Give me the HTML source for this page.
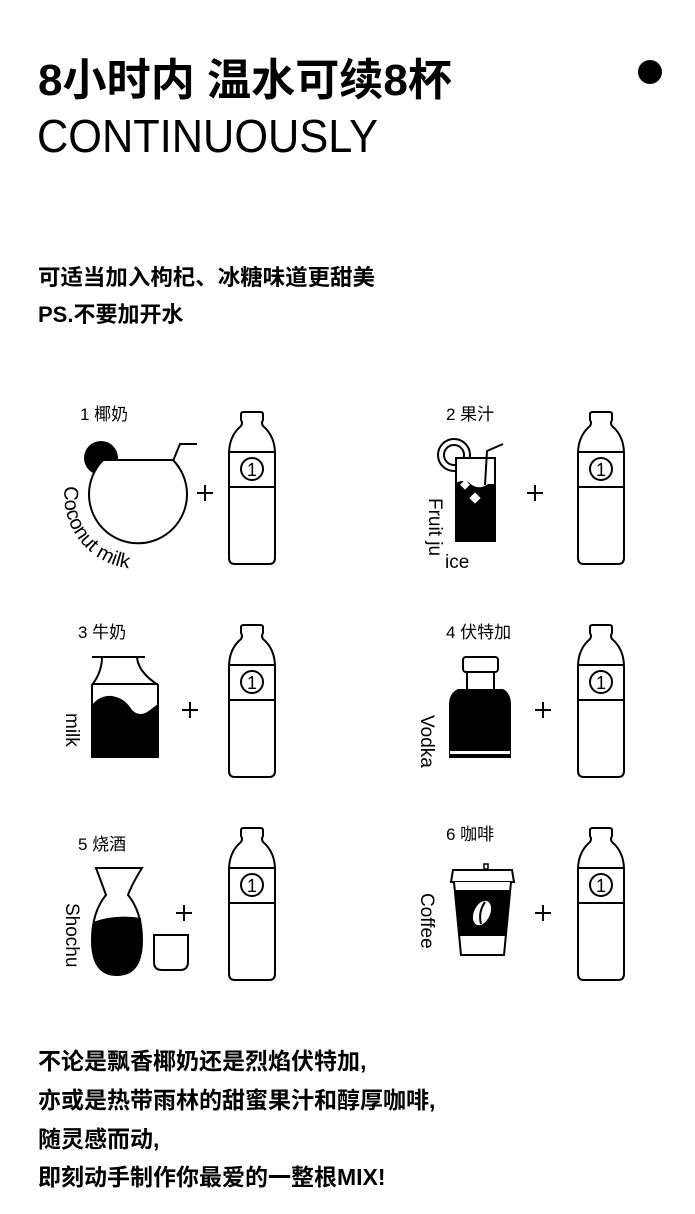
<!DOCTYPE html>
<html><head><meta charset="utf-8"><style>
html,body{margin:0;padding:0;background:#fff;}
body{width:695px;height:1214px;overflow:hidden;position:relative;font-family:"Liberation Sans","Noto Sans CJK SC",sans-serif;color:#000;}
</style></head><body>
<svg width="695" height="1214" viewBox="0 0 695 1214" xmlns="http://www.w3.org/2000/svg" style="position:absolute;left:0;top:0">
<defs>
<g id="btl" fill="none" stroke="#000" stroke-width="2">
<path d="M14,2 Q14,0 17,0 L33,0 Q36,0 36,2 L36,8 Q34,11 36,14 Q48,24 48,42 L48,146 Q48,152 42,152 L8,152 Q2,152 2,146 L2,42 Q2,24 14,14 Q16,11 14,8 Z" fill="#fff"/>
<line x1="2" y1="40" x2="48" y2="40"/><line x1="2" y1="75" x2="48" y2="75"/>
<circle cx="25" cy="57" r="11"/>
<text x="25" y="64" font-size="18" text-anchor="middle" fill="#000" stroke="none" font-family="Liberation Sans,sans-serif">1</text>
</g>
<g id="plus" stroke="#000" stroke-width="2"><line x1="-8" y1="0" x2="8" y2="0"/><line x1="0" y1="-8" x2="0" y2="8"/></g>
<path id="arc" d="M65,486 A73,73 0 0 0 168,562"/>
</defs>
<g font-family="Liberation Sans,Noto Sans CJK SC,sans-serif">
<text x="38" y="95" font-size="44" font-weight="bold" textLength="414" lengthAdjust="spacingAndGlyphs">8小时内 温水可续8杯</text>
<text x="37" y="152" font-size="46" textLength="341" lengthAdjust="spacingAndGlyphs">CONTINUOUSLY</text>
<circle cx="650" cy="72" r="12"/>
<text x="38" y="285" font-size="22" font-weight="bold" textLength="337" lengthAdjust="spacingAndGlyphs">可适当加入枸杞、冰糖味道更甜美</text>
<text x="38" y="322" font-size="22" font-weight="bold">PS.不要加开水</text>
<g font-size="17">
<text x="80" y="420">1 椰奶</text><text x="446" y="420">2 果汁</text>
<text x="78" y="638">3 牛奶</text><text x="446" y="638">4 伏特加</text>
<text x="78" y="850">5 烧酒</text><text x="446" y="840">6 咖啡</text>
</g>
<g font-size="23" font-weight="bold">
<text x="38" y="1069">不论是飘香椰奶还是烈焰伏特加,</text>
<text x="38" y="1108">亦或是热带雨林的甜蜜果汁和醇厚咖啡,</text>
<text x="38" y="1147">随灵感而动,</text>
<text x="38" y="1185">即刻动手制作你最爱的一整根MIX!</text>
</g>
</g>
<use href="#btl" x="227" y="412"/><use href="#btl" x="576" y="412"/>
<use href="#btl" x="227" y="625"/><use href="#btl" x="576" y="625"/>
<use href="#btl" x="227" y="828"/><use href="#btl" x="576" y="828"/>
<use href="#plus" x="205" y="493"/><use href="#plus" x="535" y="493"/>
<use href="#plus" x="190" y="710"/><use href="#plus" x="543" y="710"/>
<use href="#plus" x="184" y="913"/><use href="#plus" x="543" y="913"/>
<!-- coconut -->
<circle cx="101" cy="458" r="17"/>
<path d="M103,460 L173,460 A49,49 0 1 1 103,460 Z" fill="#fff" stroke="#000" stroke-width="2"/>
<path d="M173,461 L180,444 L197,444" fill="none" stroke="#000" stroke-width="2"/>
<text font-size="20" font-family="Liberation Sans,sans-serif"><textPath href="#arc">Coconut milk</textPath></text>
<!-- fruit juice -->
<circle cx="454" cy="455" r="16" fill="#fff" stroke="#000" stroke-width="2"/>
<circle cx="454" cy="455" r="10" fill="none" stroke="#000" stroke-width="2"/>
<rect x="456" y="458" width="39" height="83" fill="#fff" stroke="#000" stroke-width="2"/>
<path d="M456,483 Q465,478 472,485 Q480,490 488,484 L495,484 L495,541 L456,541 Z"/>
<rect x="462" y="481" width="7" height="7" fill="#fff" transform="rotate(45 465 484)"/>
<rect x="471" y="494" width="8" height="8" fill="#fff" transform="rotate(45 475 498)"/>
<path d="M485,485 L487,451 L503,444" fill="none" stroke="#000" stroke-width="2"/>
<text transform="translate(429,498) rotate(90)" font-size="19" font-family="Liberation Sans,sans-serif">Fruit ju</text>
<text x="445" y="568" font-size="19" font-family="Liberation Sans,sans-serif">ice</text>
<!-- milk -->
<path d="M92,657 L145,657 M102,657 Q102,672 92,685 L92,757 L158,757 L158,685 Q138,672 137,657" fill="none" stroke="#000" stroke-width="2"/>
<line x1="92" y1="684" x2="158" y2="684" stroke="#000" stroke-width="2"/>
<path d="M92,705 Q100,695 112,696 Q125,698 132,710 Q140,718 150,710 L158,704 L158,757 L92,757 Z"/>
<text transform="translate(66,713) rotate(90)" font-size="19" font-family="Liberation Sans,sans-serif">milk</text>
<!-- vodka -->
<rect x="463" y="657" width="35" height="15" rx="3" fill="#fff" stroke="#000" stroke-width="2"/>
<path d="M467,672 L467,690 L494,690 L494,672" fill="none" stroke="#000" stroke-width="2"/>
<path d="M458,689 L503,689 Q511,693 511,705 L511,758 L449,758 L449,705 Q449,693 458,689 Z"/>
<rect x="450" y="751" width="60" height="3" fill="#fff"/>
<text transform="translate(421,715) rotate(90)" font-size="19" font-family="Liberation Sans,sans-serif">Vodka</text>
<!-- shochu -->
<path d="M96,868 L142,868 Q132,884 128,895 Q142,912 142,940 Q142,975 117,975 Q92,975 92,940 Q92,912 106,895 Q102,884 96,868 Z" fill="#fff" stroke="#000" stroke-width="2"/>
<path d="M93,922 Q115,914 141,918 L142,940 Q142,975 117,975 Q92,975 92,940 Z"/>
<path d="M154,935 L188,935 L188,962 Q188,970 180,970 L162,970 Q154,970 154,962 Z" fill="#fff" stroke="#000" stroke-width="2"/>
<text transform="translate(66,903) rotate(90)" font-size="19" font-family="Liberation Sans,sans-serif">Shochu</text>
<!-- coffee -->
<rect x="484" y="864" width="4" height="5" fill="none" stroke="#000" stroke-width="1.5"/>
<path d="M453,870 L512,870 L514,882 L451,882 Z" fill="#fff" stroke="#000" stroke-width="2"/>
<path d="M454,882 L461,955 L504,955 L511,882" fill="#fff" stroke="#000" stroke-width="2"/>
<path d="M455,890 L510,890 L506,936 L459,936 Z"/>
<ellipse cx="482" cy="913" rx="8" ry="13" fill="#fff" transform="rotate(25 482 913)"/>
<path d="M485,902 Q478,912 481,924" stroke="#000" stroke-width="2" fill="none"/>
<text transform="translate(421,893) rotate(90)" font-size="19" font-family="Liberation Sans,sans-serif">Coffee</text>
</svg>
</body></html>
